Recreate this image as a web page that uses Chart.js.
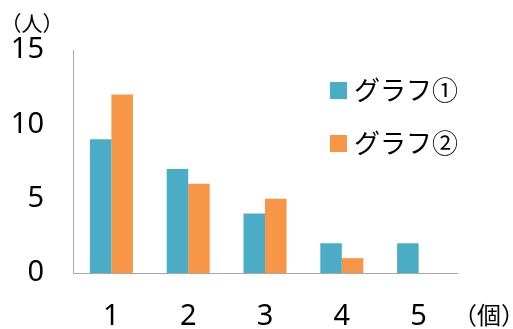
<!DOCTYPE html>
<html>
<head>
<meta charset="utf-8">
<script src="https://cdn.jsdelivr.net/npm/chart.js@4"></script>
<style>
  html, body { margin: 0; padding: 0; background: #fff; }
  #wrap { width: 513px; height: 329px; }
</style>
</head>
<body>
<div id="wrap"><canvas id="chart"></canvas></div>
<script>
let categories = ["1", "2", "3", "4", "5"];
let seriesNames = ["グラフ①", "グラフ②"];
let graph1 = [9, 7, 4, 2, 2];
let graph2 = [12, 6, 5, 1, 0];
let yTicks = [0, 5, 10, 15];
let yUnit = "（人）";
let xUnit = "（個）";

const numFont = "'Noto Sans', 'Liberation Sans', sans-serif";
const jpFont = "'Noto Sans CJK JP', sans-serif";

// legend sits inside the plot, so draw it by hand
const extras = {
    id: 'extras',
    afterDraw(chart) {
        const ctx = chart.ctx;
        ctx.save();
        ctx.textBaseline = 'middle';
        ctx.textAlign = 'left';
        ctx.font = "26px " + jpFont;
        chart.data.datasets.forEach((ds, i) => {
            const y = 90 + i * 53;
            ctx.fillStyle = ds.backgroundColor;
            ctx.fillRect(330, y - 8, 17, 17);
            ctx.fillStyle = '#000';
            ctx.fillText(ds.label, 354, y);
        });
        ctx.textAlign = 'center';
        ctx.font = "21px " + jpFont;
        ctx.fillText(yUnit, 32, 23);
        ctx.font = "24px " + jpFont;
        ctx.fillText(xUnit, 489, 315);
        ctx.restore();
    }
};

new Chart(document.getElementById('chart'), {
    type: 'bar',
    data: {
        labels: categories,
        datasets: [
            { label: seriesNames[0], data: graph1, backgroundColor: '#4BACC6' },
            { label: seriesNames[1], data: graph2, backgroundColor: '#F79646' }
        ]
    },
    options: {
        responsive: true,
        maintainAspectRatio: false,
        animation: false,
        layout: { padding: { left: 0, top: 50, right: 56, bottom: 0 } },
        datasets: { bar: { barPercentage: 1, categoryPercentage: 0.56 } },
        plugins: { legend: { display: false }, tooltip: { enabled: false } },
        scales: {
            x: {
                grid: { display: false, drawTicks: false },
                border: { color: '#a6a6a6', width: 1 },
                ticks: { color: '#000', font: { family: numFont, size: 29 }, padding: 26, maxRotation: 0 },
                afterFit: s => { s.height = 56; }
            },
            y: {
                min: 0,
                max: 15,
                grid: { display: false, drawTicks: false },
                border: { color: '#a6a6a6', width: 1 },
                afterBuildTicks: s => { s.ticks = yTicks.map(v => ({ value: v })); },
                ticks: { color: '#000', font: { family: numFont, size: 29 }, padding: 29 },
                afterFit: s => { s.width = 73; }
            }
        }
    },
    plugins: [extras]
});
</script>
</body>
</html>
